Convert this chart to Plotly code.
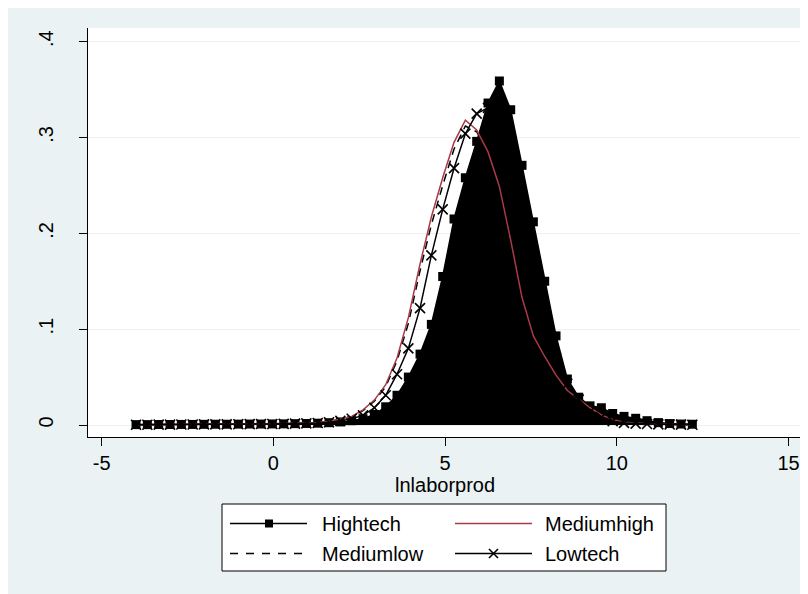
import plotly.graph_objects as go

# ---------------- data ----------------
x_grid = [-4.00, -3.67, -3.34, -3.01, -2.68, -2.35, -2.02, -1.69, -1.36, -1.02,
          -0.69, -0.36, -0.03, 0.30, 0.63, 0.96, 1.29, 1.62, 1.95, 2.28,
          2.61, 2.94, 3.27, 3.60, 3.93, 4.27, 4.60, 4.93, 5.26, 5.59,
          5.92, 6.25, 6.58, 6.91, 7.24, 7.57, 7.90, 8.23, 8.56, 8.89,
          9.22, 9.55, 9.88, 10.21, 10.55, 10.88, 11.21, 11.54, 11.87, 12.20]

hightech = [0.0004, 0.0004, 0.0005, 0.0005, 0.0006, 0.0006, 0.0007, 0.0008, 0.0008, 0.0009,
            0.0010, 0.0010, 0.0011, 0.0012, 0.0014, 0.0016, 0.0019, 0.0024, 0.0032, 0.0045,
            0.0066, 0.0110, 0.0190, 0.0310, 0.0500, 0.0740, 0.1050, 0.1550, 0.2150, 0.2580,
            0.2960, 0.3360, 0.3590, 0.3290, 0.2710, 0.2120, 0.1500, 0.0930, 0.0480, 0.0290,
            0.0200, 0.0180, 0.0120, 0.0090, 0.0070, 0.0045, 0.0025, 0.0015, 0.0010, 0.0008]

mediumhigh = [0.0003, 0.0003, 0.0004, 0.0004, 0.0005, 0.0005, 0.0006, 0.0007, 0.0008, 0.0009,
              0.0010, 0.0011, 0.0013, 0.0015, 0.0018, 0.0021, 0.0027, 0.0040, 0.0060, 0.0090,
              0.0158, 0.0260, 0.0420, 0.0700, 0.1120, 0.1680, 0.2170, 0.2580, 0.2950, 0.3180,
              0.3080, 0.2850, 0.2490, 0.1930, 0.1330, 0.0930, 0.0715, 0.0520, 0.0360, 0.0270,
              0.0180, 0.0105, 0.0057, 0.0030, 0.0018, 0.0012, 0.0008, 0.0006, 0.0004, 0.0003]

mediumlow = [0.0003, 0.0003, 0.0004, 0.0004, 0.0005, 0.0005, 0.0006, 0.0007, 0.0008, 0.0009,
             0.0010, 0.0011, 0.0012, 0.0014, 0.0017, 0.0020, 0.0026, 0.0038, 0.0056, 0.0085,
             0.0150, 0.0248, 0.0400, 0.0670, 0.1060, 0.1610, 0.2090, 0.2500, 0.2880, 0.3120,
             0.3060, 0.2850, 0.2500, 0.1950, 0.1360, 0.0960, 0.0730, 0.0530, 0.0370, 0.0270,
             0.0180, 0.0105, 0.0058, 0.0032, 0.0019, 0.0012, 0.0008, 0.0006, 0.0004, 0.0003]

lowtech = [0.0003, 0.0003, 0.0004, 0.0004, 0.0005, 0.0005, 0.0006, 0.0006, 0.0007, 0.0008,
           0.0009, 0.0010, 0.0011, 0.0012, 0.0014, 0.0017, 0.0021, 0.0029, 0.0043, 0.0065,
           0.0100, 0.0180, 0.0310, 0.0530, 0.0800, 0.1220, 0.1770, 0.2250, 0.2680, 0.3040,
           0.3250, 0.3310, 0.3100, 0.2700, 0.2150, 0.1600, 0.1100, 0.0700, 0.0430, 0.0265,
           0.0140, 0.0080, 0.0040, 0.0022, 0.0015, 0.0010, 0.0007, 0.0005, 0.0004, 0.0003]

series_names = ["Hightech", "Mediumhigh", "Mediumlow", "Lowtech"]
x_tickvals = [-5, 0, 5, 10, 15]
x_ticktext = ["-5", "0", "5", "10", "15"]
y_tickvals = [0, 0.1, 0.2, 0.3, 0.4]
y_ticktext = ["0", ".1", ".2", ".3", ".4"]
x_title = "lnlaborprod"

# ---------------- layout geometry ----------------
# The page body adds an 8px offset; page-pixel targets are converted below.
OFF = 8
W, H = 808, 594
L, R, T, B = 80, 16, 20, 165          # in figure pixels
PW, PH = W - L - R, H - T - B
BG = "#EAF2F3"
RED = "#A83A46"
FONT = "Liberation Sans, Arial, Helvetica, sans-serif"


def fx(px):  # page px -> paper fraction
    return (px - OFF - L) / PW


def fy(py):
    return (H - B - (py - OFF)) / PH


fig = go.Figure()

fig.add_trace(go.Scatter(
    x=x_grid, y=hightech, name=series_names[0], mode="lines+markers",
    fill="tozeroy", fillcolor="black",
    line=dict(color="black", width=1.5),
    marker=dict(symbol="square", size=9, color="black"),
))
fig.add_trace(go.Scatter(
    x=x_grid, y=mediumlow, name=series_names[2], mode="lines",
    line=dict(color="black", width=1.5, dash="8px,6px"),
))
fig.add_trace(go.Scatter(
    x=x_grid, y=mediumhigh, name=series_names[1], mode="lines",
    line=dict(color=RED, width=1.5),
))
fig.add_trace(go.Scatter(
    x=x_grid, y=lowtech, name=series_names[3], mode="lines+markers",
    line=dict(color="black", width=1.5),
    marker=dict(symbol="x-thin", size=10, color="black",
                line=dict(width=1.6, color="black")),
))

shapes = []
annotations = []

# custom legend (page-pixel positions)
shapes.append(dict(type="rect", xref="paper", yref="paper",
                   x0=fx(222), x1=fx(666), y0=fy(571), y1=fy(504),
                   fillcolor="white", line=dict(color="black", width=1)))
r1, r2 = 523.5, 553.5
c1a, c1b, c2a, c2b = 230, 307, 455, 532
shapes.append(dict(type="line", xref="paper", yref="paper",
                   x0=fx(c1a), x1=fx(c1b), y0=fy(r1), y1=fy(r1),
                   line=dict(color="black", width=1.5)))
shapes.append(dict(type="rect", xref="paper", yref="paper",
                   x0=fx(265), x1=fx(273), y0=fy(r1 + 4), y1=fy(r1 - 4),
                   fillcolor="black", line=dict(width=0)))
shapes.append(dict(type="line", xref="paper", yref="paper",
                   x0=fx(c2a), x1=fx(c2b), y0=fy(r1), y1=fy(r1),
                   line=dict(color=RED, width=1.5)))
shapes.append(dict(type="line", xref="paper", yref="paper",
                   x0=fx(c1a), x1=fx(c1b), y0=fy(r2), y1=fy(r2),
                   line=dict(color="black", width=1.5, dash="8px,8px")))
shapes.append(dict(type="line", xref="paper", yref="paper",
                   x0=fx(c2a), x1=fx(c2b), y0=fy(r2), y1=fy(r2),
                   line=dict(color="black", width=1.5)))
cx = 493.5
for d in (1, -1):
    shapes.append(dict(type="line", xref="paper", yref="paper",
                       x0=fx(cx - 4.5), x1=fx(cx + 4.5),
                       y0=fy(r2 - 4.5 * d), y1=fy(r2 + 4.5 * d),
                       line=dict(color="black", width=1.6)))

legend_text = [(series_names[0], 320, r1), (series_names[1], 543, r1),
               (series_names[2], 320, r2), (series_names[3], 543, r2)]
for txt, px, py in legend_text:
    annotations.append(dict(text=txt, xref="paper", yref="paper",
                            x=fx(px), y=fy(py), xanchor="left", yanchor="middle",
                            showarrow=False, font=dict(family=FONT, size=20, color="black")))

annotations.append(dict(text=x_title, xref="paper", yref="paper",
                        x=fx(445), y=fy(485), xanchor="center", yanchor="middle",
                        showarrow=False, font=dict(family=FONT, size=20, color="black")))

# axis ranges from page-pixel tick positions
px_per_x = 171.7 / 5
x0v = -5 - (101.7 - (L + OFF)) / px_per_x
x1v = x0v + PW / px_per_x
px_per_y = 958.3
y1v = 0.4 + (41.7 - (T + OFF)) / px_per_y
y0v = -((H - B + OFF) - 425) / px_per_y

fig.update_layout(
    width=W, height=H,
    margin=dict(l=L, r=R, t=T, b=B, pad=0),
    paper_bgcolor=BG, plot_bgcolor="white",
    showlegend=False,
    font=dict(family=FONT, size=20, color="black"),
    shapes=shapes, annotations=annotations,
    xaxis=dict(range=[x0v, x1v], tickvals=x_tickvals, ticktext=x_ticktext,
               showgrid=False, zeroline=False, showline=True, linecolor="black",
               linewidth=1, ticks="outside", ticklen=8, tickwidth=1, tickcolor="black",
               tickfont=dict(family=FONT, size=20, color="black"),
               ticklabelstandoff=0),
    yaxis=dict(range=[y0v, y1v], tickvals=y_tickvals, ticktext=y_ticktext,
               showgrid=True, gridcolor=BG, gridwidth=1,
               zeroline=False, showline=True, linecolor="black",
               linewidth=1, ticks="outside", ticklen=8, tickwidth=1, tickcolor="black",
               tickangle=-90,
               tickfont=dict(family=FONT, size=20, color="black"),
               ticklabelstandoff=18),
)

fig.write_html("out.html")
